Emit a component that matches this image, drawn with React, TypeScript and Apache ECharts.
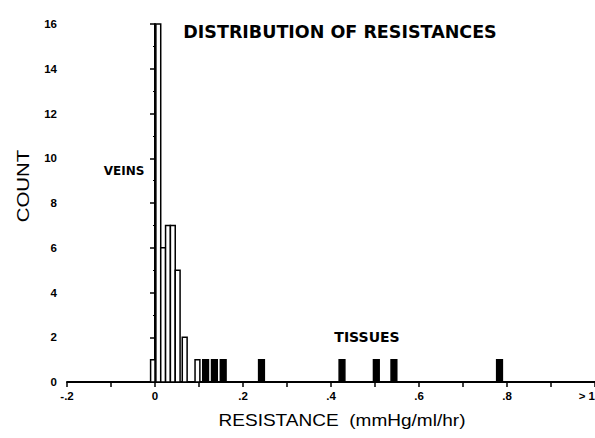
import React, { useEffect, useRef } from "react";
import * as echarts from "echarts";

// Veins histogram: bin edges (resistance) and counts
const veinBinLo = [-0.01, 0.002, 0.013, 0.024, 0.035, 0.046, 0.062, 0.091];
const veinBinHi = [0.0, 0.013, 0.024, 0.035, 0.046, 0.057, 0.073, 0.102];
const veinCounts = [1, 16, 6, 7, 7, 5, 2, 1];

// Tissues: individual resistance values, each with count 1
const tissueValues = [0.115, 0.135, 0.155, 0.242, 0.425, 0.503, 0.543, 0.783];
const tissueCounts = [1, 1, 1, 1, 1, 1, 1, 1];
const tissueBarWidth = 0.013;

// Axis tick labels
const xTickValues = [-0.2, 0, 0.2, 0.4, 0.6, 0.8, 1.0];
const xTickLabels = ["-.2", "0", ".2", ".4", ".6", ".8", "> 1"];

const FONT = "'Liberation Sans', Arial, sans-serif";
const BOLD = "'DejaVu Sans', sans-serif";

export default function App() {
  const ref = useRef<HTMLDivElement>(null);
  useEffect(() => {
    if (!ref.current) return;
    const chart = echarts.init(ref.current, null, { renderer: "svg" });
    const veinData = veinCounts.map((c, i) => [veinBinLo[i], veinBinHi[i], c]);
    const tissueData = tissueValues.map((v, i) => [
      v - tissueBarWidth / 2,
      v + tissueBarWidth / 2,
      tissueCounts[i],
    ]);
    const makeRender = (fill: string) => (params: any, api: any) => {
      const lo = api.value(0);
      const hi = api.value(1);
      const c = api.value(2);
      const p0 = api.coord([lo, c]);
      const p1 = api.coord([hi, 0]);
      return {
        type: "rect",
        shape: { x: p0[0], y: p0[1], width: p1[0] - p0[0], height: p1[1] - p0[1] },
        style: { fill, stroke: "#000", lineWidth: 1.5 },
      };
    };
    chart.setOption({
      animation: false,
      backgroundColor: "#fff",
      grid: { left: 67, right: 0, top: 24, bottom: 56, outerBoundsMode: "none", containLabel: false },
      xAxis: {
        type: "value",
        min: -0.2,
        max: 1.0,
        interval: 0.1,
        axisLine: { lineStyle: { color: "#000", width: 2 } },
        axisTick: { show: true, length: 5, lineStyle: { color: "#000", width: 1.5 } },
        splitLine: { show: false },
        axisLabel: {
          color: "#000",
          fontFamily: FONT,
          fontWeight: "bold",
          fontSize: 11.5,
          margin: 8,
          showMaxLabel: true,
          showMinLabel: true,
          alignMaxLabel: "right",
          formatter: (v: number) => {
            const idx = xTickValues.findIndex((t) => Math.abs(t - v) < 1e-6);
            return idx >= 0 ? xTickLabels[idx] : "";
          },
        },
      },
      yAxis: {
        type: "value",
        min: 0,
        max: 16,
        interval: 2,
        axisLine: { show: true, lineStyle: { color: "#000", width: 2 } },
        axisTick: { show: true, length: 5, lineStyle: { color: "#000", width: 1.5 } },
        minorTick: { show: true, splitNumber: 2, length: 2, lineStyle: { color: "#000" } },
        splitLine: { show: false },
        axisLabel: {
          color: "#000",
          fontFamily: FONT,
          fontWeight: "bold",
          fontSize: 11.5,
          margin: 10,
        },
      },
      graphic: [
        {
          type: "text",
          x: 340,
          y: 32,
          style: {
            text: "DISTRIBUTION OF RESISTANCES",
            font: `bold 17.5px ${BOLD}`,
            fill: "#000",
            align: "center",
            verticalAlign: "middle",
          },
        },
        {
          type: "text",
          x: 124,
          y: 171,
          style: {
            text: "VEINS",
            font: `bold 12px ${BOLD}`,
            fill: "#000",
            align: "center",
            verticalAlign: "middle",
          },
        },
        {
          type: "text",
          x: 367,
          y: 337,
          style: {
            text: "TISSUES",
            font: `bold 14px ${BOLD}`,
            fill: "#000",
            align: "center",
            verticalAlign: "middle",
          },
        },
        {
          type: "text",
          x: 342,
          y: 420,
          scaleX: 1.12,
          style: {
            text: "RESISTANCE  (mmHg/ml/hr)",
            font: `17px ${FONT}`,
            fill: "#000",
            align: "center",
            verticalAlign: "middle",
          },
        },
        {
          type: "text",
          x: 23,
          y: 186,
          rotation: Math.PI / 2,
          scaleX: 1.2,
          style: {
            text: "COUNT",
            font: `17px ${FONT}`,
            fill: "#000",
            align: "center",
            verticalAlign: "middle",
          },
        },
      ],
      series: [
        {
          type: "custom",
          name: "Veins",
          renderItem: makeRender("#fff"),
          encode: { x: [0, 1], y: 2 },
          data: veinData,
          clip: false,
        },
        {
          type: "custom",
          name: "Tissues",
          renderItem: makeRender("#000"),
          encode: { x: [0, 1], y: 2 },
          data: tissueData,
          clip: false,
        },
      ],
    });
    return () => chart.dispose();
  }, []);
  return (
    <div
      ref={ref}
      style={{ position: "fixed", left: 0, top: 0, width: 595, height: 438, background: "#fff" }}
    />
  );
}
